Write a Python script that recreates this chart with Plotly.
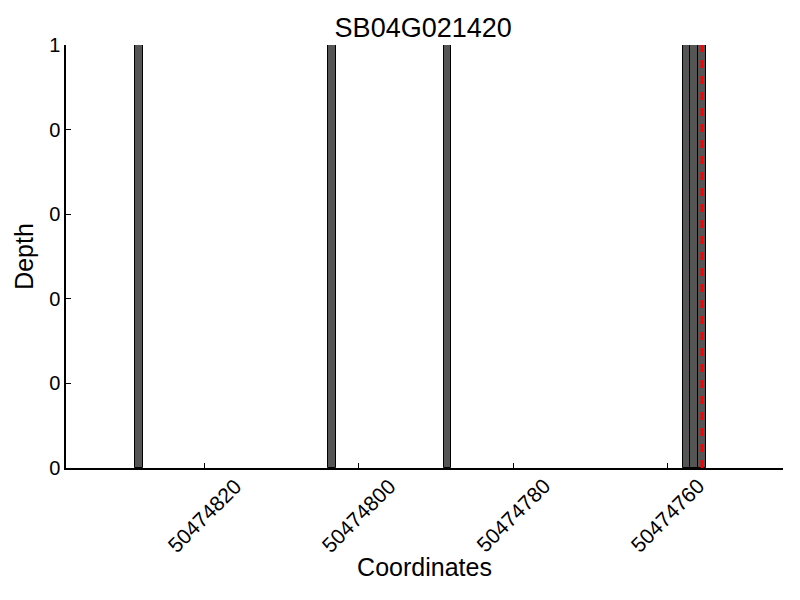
import plotly.graph_objects as go

# Data
positions = [50474828, 50474803, 50474788, 50474757, 50474756, 50474755]
depths = [1, 1, 1, 1, 1, 1]
marker_pos = [50474755.5, 50474755.5]
marker_y = [0, 1]
x_tickvals = [50474820, 50474800, 50474780, 50474760]
x_ticktext = ["50474820", "50474800", "50474780", "50474760"]
y_tickvals = [0, 0.2, 0.4, 0.6, 0.8, 1.0]
y_ticktext = ["0", "0", "0", "0", "0", "1"]
title = "SB04G021420"

FONT = "Liberation Sans, Arial, Helvetica, sans-serif"

fig = go.Figure()
fig.add_trace(go.Bar(
    x=positions, y=depths, width=1, offset=0,
    marker=dict(color="#555555", line=dict(color="black", width=1)),
    showlegend=False,
))
fig.add_trace(go.Scatter(
    x=marker_pos, y=marker_y, mode="lines",
    line=dict(color="red", width=3, dash="8px,8px"),
    showlegend=False,
))

# rotated x tick labels centred under their ticks (matplotlib style)
for v, t in zip(x_tickvals, x_ticktext):
    fig.add_annotation(
        x=v, xref="x", y=0, yref="paper", text=t, showarrow=False,
        textangle=-45, xanchor="center", yanchor="top", yshift=-4,
        font=dict(size=21, family=FONT, color="black"),
    )

fig.update_layout(
    width=800, height=600,
    margin=dict(l=58, r=25, t=37, b=140, autoexpand=False),
    plot_bgcolor="white", paper_bgcolor="white",
    font=dict(family=FONT, color="black"),
    bargap=0,
    title=dict(text=title, x=0.519, xanchor="center", y=0.967, yanchor="middle",
               font=dict(size=27, family=FONT, color="black")),
    xaxis=dict(
        range=[50474838, 50474745],
        tickvals=x_tickvals, showticklabels=False,
        ticks="inside", ticklen=5, tickcolor="black",
        showline=True, linecolor="black", linewidth=1.5,
        showgrid=False, zeroline=False,
        title=dict(text="Coordinates", font=dict(size=25, family=FONT), standoff=90),
    ),
    yaxis=dict(
        range=[0, 1],
        tickvals=y_tickvals, ticktext=y_ticktext,
        ticks="inside", ticklen=5, tickcolor="black",
        showline=True, linecolor="black", linewidth=1.5,
        showgrid=False, zeroline=False,
        tickfont=dict(size=20, family=FONT),
        title=dict(text="Depth", font=dict(size=25, family=FONT), standoff=8),
    ),
)

fig.write_html("out.html")
